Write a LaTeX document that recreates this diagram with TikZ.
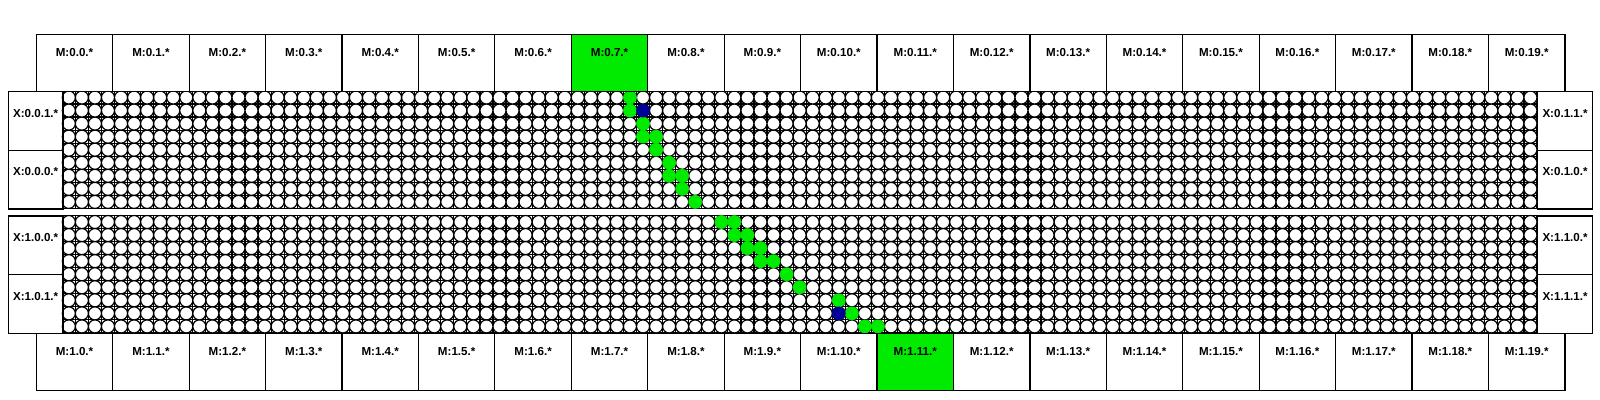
\documentclass[tikz,border=0pt]{standalone}
\usepackage{fontspec}
\setmainfont{Liberation Sans}
\usetikzlibrary{positioning}

\definecolor{hit}{RGB}{0,235,0}
\definecolor{src}{RGB}{0,0,150}

\begin{document}
\begin{tikzpicture}[
    x=0.5pt, y=-0.5pt,
    lbl/.style={font=\bfseries\fontsize{5.8}{7}\selectfont},
    mbox/.style={lbl, rectangle, draw, line width=0.6pt, inner sep=0pt, anchor=north west, minimum width=38.215pt, text height=11.1pt, text depth=17.4pt},
    xbox/.style={lbl, rectangle, draw, line width=0.6pt, inner sep=0pt, anchor=north west, minimum width=27.5pt, text height=12.8pt, text depth=16.56pt},
    cell/.style={draw, line width=0.6pt, fill=white},
    hitcell/.style={draw=hit, fill=hit, line width=0.3pt},
    srccell/.style={draw=src, fill=src, line width=0.3pt}
  ]
  \useasboundingbox (0,0) rectangle (1600,400);

  % the two cell grids
  \foreach \top in {91, 215.5} {
    \begin{scope}[shift={(62.3,\top)}, x=6.525pt, y=-6.525pt]
      \foreach \c in {0,...,113} \draw[line width=0.6pt] (\c,0) -- (\c,9);
      \foreach \w in {0,...,9} \draw[line width=0.6pt] (0,\w) -- (113,\w);
      \filldraw[cell] \foreach \c in {0,...,112} {\foreach \w in {0,...,8} {(\c+0.5,\w+0.5) circle[radius=0.5]}};
    \end{scope}
  }

  % path through the upper grid
  \begin{scope}[shift={(62.3,91)}, x=6.525pt, y=-6.525pt]
    \foreach \c/\w in {43/0, 43/1, 44/2, 44/3, 45/3, 45/4, 46/5, 46/6, 47/6, 47/7, 48/8}
      \filldraw[hitcell] (\c+0.5,\w+0.5) circle[radius=0.5];
    \filldraw[srccell] (44.5,1.5) circle[radius=0.5];
  \end{scope}

  % path through the lower grid
  \begin{scope}[shift={(62.3,215.5)}, x=6.525pt, y=-6.525pt]
    \foreach \c/\w in {50/0, 51/0, 51/1, 52/1, 52/2, 53/2, 53/3, 54/3, 55/4, 56/5, 59/6, 60/7, 61/8, 62/8}
      \filldraw[hitcell] (\c+0.5,\w+0.5) circle[radius=0.5];
    \filldraw[srccell] (59.5,7.5) circle[radius=0.5];
  \end{scope}

  % M rows
  \foreach \k/\top/\hl in {0/34/7, 1/332.95/11} {
    \foreach \i in {0,...,19} {
      \ifnum\i=\hl\relax \def\fc{hit}\else \def\fc{white}\fi
      \node[mbox, fill=\fc] (m\k-\i) at ({35.7+76.43*\i},\top) {M:\k.\i.*};
    }
  }

  % X boxes
  \node[xbox] (x0-0-1) at (7.55,91) {X:0.0.1.*};
  \node[xbox] (x0-0-0) at (7.55,149.725) {X:0.0.0.*};
  \node[xbox] (x0-1-1) at (1536.95,91) {X:0.1.1.*};
  \node[xbox] (x0-1-0) at (1536.95,149.725) {X:0.1.0.*};
  \node[xbox] (x1-0-0) at (7.55,215.5) {X:1.0.0.*};
  \node[xbox] (x1-0-1) at (7.55,274.225) {X:1.0.1.*};
  \node[xbox] (x1-1-0) at (1536.95,215.5) {X:1.1.0.*};
  \node[xbox] (x1-1-1) at (1536.95,274.225) {X:1.1.1.*};
\end{tikzpicture}
\end{document}
